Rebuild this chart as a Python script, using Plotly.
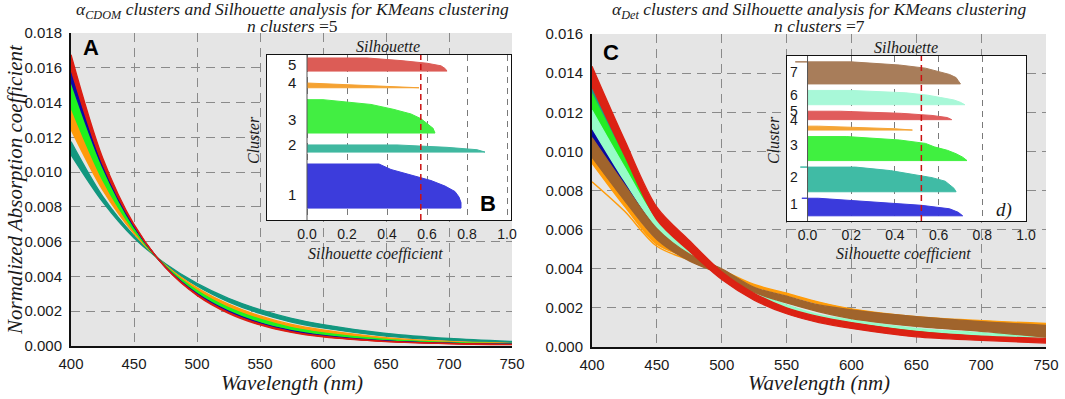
import plotly.graph_objects as go

W, H = 1065, 399

# ---------------- data ----------------
wavelength = [400, 425, 450, 475, 500, 525, 550, 575, 600, 650, 700, 750]

# Panel A: a_CDOM spectra, band edges per cluster (x 1e-3)
cdom_teal_lo   = [11.00, 8.30, 6.21, 4.73, 3.60, 2.74, 2.09, 1.59, 1.23, 0.72, 0.43, 0.26]
cdom_teal_hi   = [11.75, 8.62, 6.35, 4.68, 3.45, 2.54, 1.87, 1.38, 1.04, 0.57, 0.32, 0.19]
cdom_orange_lo = [12.45, 8.99, 6.47, 4.65, 3.35, 2.41, 1.73, 1.24, 0.92, 0.48, 0.26, 0.15]
cdom_orange_hi = [13.80, 9.61, 6.65, 4.60, 3.18, 2.20, 1.52, 1.05, 0.75, 0.37, 0.19, 0.11]
cdom_green_lo  = [13.70, 9.57, 6.64, 4.60, 3.19, 2.21, 1.54, 1.06, 0.76, 0.38, 0.20, 0.12]
cdom_green_hi  = [15.25, 10.22, 6.82, 4.55, 3.04, 2.03, 1.36, 0.91, 0.62, 0.31, 0.17, 0.10]
cdom_blue_lo   = [15.20, 10.30, 6.85, 4.55, 3.02, 2.01, 1.33, 0.89, 0.61, 0.30, 0.16, 0.10]
cdom_blue_hi   = [15.90, 10.55, 6.91, 4.53, 2.97, 1.95, 1.27, 0.84, 0.57, 0.28, 0.15, 0.09]
cdom_red_lo    = [15.90, 10.48, 6.93, 4.53, 2.96, 1.94, 1.27, 0.83, 0.56, 0.27, 0.15, 0.09]
cdom_red_hi    = [16.75, 10.84, 6.99, 4.51, 2.91, 1.88, 1.21, 0.78, 0.52, 0.25, 0.13, 0.08]

# Panel C: a_Det spectra, band edges per cluster (x 1e-3)
det_blue_lo    = [10.70, 8.20, 5.95, 4.60, 3.70, 2.70, 2.00, 1.50, 1.20, 0.82, 0.60, 0.42]
det_blue_hi    = [11.20, 8.60, 6.30, 4.70, 3.80, 2.80, 2.10, 1.60, 1.30, 0.90, 0.68, 0.50]
det_teal_lo    = [12.90, 9.60, 6.55, 4.95, 3.80, 2.75, 2.00, 1.50, 1.20, 0.82, 0.62, 0.48]
det_teal_hi    = [13.25, 9.90, 6.75, 5.10, 3.90, 2.85, 2.10, 1.60, 1.30, 0.90, 0.70, 0.55]
det_green_lo   = [12.10, 9.10, 6.35, 4.85, 3.75, 2.70, 2.00, 1.50, 1.20, 0.82, 0.62, 0.46]
det_green_hi   = [12.95, 9.70, 6.70, 5.05, 3.90, 2.80, 2.10, 1.60, 1.30, 0.90, 0.70, 0.55]
det_mint_lo    = [11.20, 8.50, 6.10, 4.70, 3.70, 2.70, 2.05, 1.55, 1.28, 0.85, 0.58, 0.38]
det_mint_hi    = [12.10, 9.20, 6.45, 4.90, 3.85, 2.80, 2.15, 1.65, 1.38, 0.95, 0.72, 0.50]
det_orange_lo  = [9.40, 7.20, 5.25, 4.55, 3.90, 3.10, 2.65, 2.20, 1.85, 1.45, 1.25, 1.10]
det_orange_hi  = [9.70, 7.45, 5.45, 4.70, 3.95, 3.20, 2.75, 2.30, 1.95, 1.55, 1.35, 1.20]
det_orange_low_line = [8.45, 6.95, 5.15, 4.45, 3.90, 3.15, 2.70, 2.25, 1.90, 1.50, 1.30, 1.15]
det_brown_lo   = [9.70, 7.50, 5.50, 4.40, 3.70, 2.80, 2.25, 1.80, 1.45, 1.05, 0.80, 0.50]
det_brown_hi   = [10.70, 8.30, 6.05, 4.75, 4.00, 3.05, 2.60, 2.15, 1.90, 1.55, 1.30, 1.10]
det_red_lo     = [13.30, 9.80, 6.50, 4.90, 3.45, 2.40, 1.70, 1.25, 0.95, 0.52, 0.34, 0.20]
det_red_hi     = [14.35, 10.60, 7.15, 5.45, 3.85, 2.75, 2.00, 1.55, 1.25, 0.80, 0.56, 0.44]

# Silhouette analysis (inset B): clusters 1..5
cdom_cluster_ids = [1, 2, 3, 4, 5]
cdom_cluster_sizes = [37, 6, 28, 4, 11]
cdom_sil_profiles = [
    [0.77, 0.77, 0.76, 0.74, 0.69, 0.62, 0.52, 0.42, 0.36],
    [0.89, 0.85, 0.70, 0.45],
    [0.64, 0.63, 0.60, 0.57, 0.52, 0.43, 0.32, 0.08],
    [0.56, 0.42, 0.28, 0.14, 0.0],
    [0.70, 0.69, 0.67, 0.60, 0.47, 0.30],
]
cdom_sil_min = [0.0, 0.0, 0.0, 0.0, 0.0]
cdom_sil_avg = 0.569
cdom_label_y = [21, 63, 84, 115.4, 130.8]

# Silhouette analysis (inset d): clusters 1..7
det_cluster_ids = [1, 2, 3, 4, 5, 6, 7]
det_cluster_sizes = [27, 38, 37, 6, 13, 22, 34]
det_sil_profiles = [
    [0.71, 0.69, 0.65, 0.52, 0.30, 0.05],
    [0.68, 0.67, 0.65, 0.63, 0.57, 0.48, 0.38, 0.22],
    [0.73, 0.71, 0.68, 0.64, 0.58, 0.54, 0.42, 0.18],
    [0.48, 0.40, 0.25, 0.05],
    [0.66, 0.64, 0.57, 0.43, 0.15],
    [0.72, 0.70, 0.67, 0.61, 0.55, 0.45, 0.20],
    [0.70, 0.69, 0.68, 0.65, 0.60, 0.54, 0.42, 0.20],
]
det_sil_min = [-0.026, -0.033, 0.0, 0.0, 0.0, 0.0, -0.056]
det_sil_avg = 0.521
det_label_y = [26, 68, 117, 155, 170, 194, 229.7]

x_ticks = [400, 450, 500, 550, 600, 650, 700, 750]
sil_ticks = [0.0, 0.2, 0.4, 0.6, 0.8, 1.0]

# ---------------- styles ----------------
SANS = "Liberation Sans, Arial, sans-serif"
SERIF = "Liberation Serif, Times New Roman, serif"
BG = "#e5e5e5"
GRID = "#8a8a8a"

cdom_colors = {"teal": "#12977f", "orange": "#ff9a0a", "green": "#1ef21e",
               "blue": "#0a0aa8", "red": "#dc1c12"}
det_colors = {"blue": "#0808a0", "teal": "#1f9a88", "green": "#24ec24",
              "mint": "#96fcc8", "orange": "#ff9c0a", "brown": "#a0642c",
              "red": "#dc2214"}
cdom_sil_colors = ["#3c3cdc", "#40b8a0", "#42ee42", "#f5a232", "#dc5c56"]
det_sil_colors = ["#3a3adc", "#40bba5", "#40f040", "#f5a535", "#e05c5c",
                  "#a8f8d8", "#a87d5a"]

fig = go.Figure()


def band(xa, ya, lo, hi, color, lw=1.3):
    common = dict(x=wavelength, mode="lines", xaxis=xa, yaxis=ya,
                  showlegend=False, hoverinfo="skip")
    fig.add_trace(go.Scatter(y=[v * 1e-3 for v in lo],
                             line=dict(color=color, width=lw, shape="spline", smoothing=0.9),
                             **common))
    fig.add_trace(go.Scatter(y=[v * 1e-3 for v in hi], fill="tonexty", fillcolor=color,
                             line=dict(color=color, width=lw, shape="spline", smoothing=0.9),
                             **common))


# Panel A bands
band("x", "y", cdom_teal_lo, cdom_teal_hi, cdom_colors["teal"])
band("x", "y", cdom_orange_lo, cdom_orange_hi, cdom_colors["orange"])
band("x", "y", cdom_green_lo, cdom_green_hi, cdom_colors["green"])
band("x", "y", cdom_blue_lo, cdom_blue_hi, cdom_colors["blue"])
band("x", "y", cdom_red_lo, cdom_red_hi, cdom_colors["red"])

# Panel C bands
band("x2", "y2", det_blue_lo, det_blue_hi, det_colors["blue"])
band("x2", "y2", det_teal_lo, det_teal_hi, det_colors["teal"])
band("x2", "y2", det_green_lo, det_green_hi, det_colors["green"])
band("x2", "y2", det_mint_lo, det_mint_hi, det_colors["mint"])
band("x2", "y2", det_orange_lo, det_orange_hi, det_colors["orange"])
fig.add_trace(go.Scatter(x=wavelength, y=[v * 1e-3 for v in det_orange_low_line], mode="lines",
                         line=dict(color=det_colors["orange"], width=1.5, shape="spline", smoothing=0.9),
                         xaxis="x2", yaxis="y2", showlegend=False, hoverinfo="skip"))
band("x2", "y2", det_brown_lo, det_brown_hi, det_colors["brown"])
band("x2", "y2", det_red_lo, det_red_hi, det_colors["red"])


def silhouette(xa, ya, sizes, profiles, mins, colors, avg, y_start, gap, ymax):
    y_low = y_start
    for size, prof, vmin, col in zip(sizes, profiles, mins, colors):
        n = len(prof)
        ys = [y_low + size * k / (n - 1) for k in range(n)]
        top = y_low + size
        xs = [0.0] + list(prof) + [min(vmin, 0.0), 0.0]
        yy = [y_low] + ys + [top, top]
        fig.add_trace(go.Scatter(x=xs, y=yy, mode="lines", fill="toself", fillcolor=col,
                                 line=dict(color=col, width=1), xaxis=xa, yaxis=ya,
                                 showlegend=False, hoverinfo="skip"))
        y_low = top + gap
    fig.add_trace(go.Scatter(x=[0, 0], y=[0, ymax], mode="lines",
                             line=dict(color="#555555", width=1), xaxis=xa, yaxis=ya,
                             showlegend=False, hoverinfo="skip"))
    fig.add_trace(go.Scatter(x=[avg, avg], y=[0, ymax], mode="lines",
                             line=dict(color="#cc1010", width=1.5, dash="6px,4px"), xaxis=xa, yaxis=ya,
                             showlegend=False, hoverinfo="skip"))


B_YMAX = 138.5
D_YMAX = 254
silhouette("x3", "y3", cdom_cluster_sizes, cdom_sil_profiles, cdom_sil_min, cdom_sil_colors,
           cdom_sil_avg, 10, 10, B_YMAX)
silhouette("x4", "y4", det_cluster_sizes, det_sil_profiles, det_sil_min, det_sil_colors,
           det_sil_avg, 8, 10, D_YMAX)

# ---------------- layout ----------------
def dx(p0, p1):
    return [p0 / W, p1 / W]


def dy(top, bottom):
    return [1 - bottom / H, 1 - top / H]


main_x = dict(range=[400, 750], tickvals=x_ticks, showgrid=True, gridcolor=GRID, gridwidth=1,
              griddash="9px,6px", zeroline=False, showline=True, linecolor="#111111",
              linewidth=2, ticks="outside", ticklen=3, tickcolor="rgba(0,0,0,0)",
              tickfont=dict(family=SANS, size=15, color="#1a1a1a"))
main_y = dict(dtick=0.002, tickformat=".3f", showgrid=True, gridcolor=GRID, gridwidth=1,
              griddash="9px,6px", zeroline=False, showline=True, linecolor="#111111",
              linewidth=2, ticks="outside", ticklen=4, tickcolor="rgba(0,0,0,0)",
              tickfont=dict(family=SANS, size=15, color="#1a1a1a"))
inset_x = dict(tickvals=sil_ticks, tickformat=".1f", showgrid=True, gridcolor="#7a7a7a",
               gridwidth=1, griddash="6px,5px", zeroline=False, showline=True, mirror=True,
               linecolor="#111111", linewidth=1.2, ticks="outside", ticklen=1,
               tickcolor="rgba(0,0,0,0)", tickfont=dict(family=SANS, size=14, color="#1a1a1a"))
inset_y = dict(showgrid=False, zeroline=False, showline=True, mirror=True, linecolor="#111111",
               linewidth=1.2, showticklabels=False, ticks="")

fig.update_layout(
    width=W, height=H, margin=dict(l=0, r=0, t=0, b=0, pad=0, autoexpand=False),
    paper_bgcolor="white", plot_bgcolor=BG, showlegend=False,
    xaxis=dict(domain=dx(71, 512), anchor="y", **main_x),
    yaxis=dict(domain=dy(33, 346), anchor="x", range=[0, 0.018], **main_y),
    xaxis2=dict(domain=dx(592, 1046), anchor="y2", **main_x),
    yaxis2=dict(domain=dy(34, 347), anchor="x2", range=[0, 0.016], **main_y),
    xaxis3=dict(domain=dx(267, 511), anchor="y3", range=[-0.2, 1.02], **inset_x),
    yaxis3=dict(domain=dy(55, 220), anchor="x3", range=[0, B_YMAX], **inset_y),
    xaxis4=dict(domain=dx(787, 1026), anchor="y4", range=[-0.094, 1.0], **inset_x),
    yaxis4=dict(domain=dy(56, 221), anchor="x4", range=[0, D_YMAX], **inset_y),
)

# white inset backgrounds
fig.add_shape(type="rect", xref="x3", yref="y3", x0=-0.2, x1=1.02, y0=0, y1=B_YMAX,
              fillcolor="white", line=dict(width=0), layer="below")
fig.add_shape(type="rect", xref="x4", yref="y4", x0=-0.094, x1=1.0, y0=0, y1=D_YMAX,
              fillcolor="white", line=dict(width=0), layer="below")


def ann(text, px, py, size, family=SERIF, angle=0, color="#1a1a1a"):
    fig.add_annotation(text=text, x=px / W, y=1 - py / H, xref="paper", yref="paper",
                       showarrow=False, font=dict(family=family, size=size, color=color),
                       textangle=angle, xanchor="center", yanchor="middle")


ann("<i>α</i><sub><i>CDOM</i></sub><i> clusters and Silhouette analysis for KMeans clustering</i>",
    292, 10, 17.5)
ann("<i>n clusters</i> =5", 292, 26, 17.5)
ann("<i>α</i><sub><i>Det</i></sub><i> clusters and Silhouette analysis for KMeans clustering</i>",
    819, 10, 17.5)
ann("<i>n clusters</i> =7", 819, 26, 17.5)

ann("<i>Normalized Absorption coefficient</i>", 15, 190, 21, angle=-90)
ann("<i>Wavelength (nm)</i>", 292, 383, 21)
ann("<i>Wavelength (nm)</i>", 819, 383, 21)

ann("<i>Silhouette</i>", 388, 46, 16)
ann("<i>Silhouette</i>", 906, 47, 16)
ann("<i>Silhouette coefficient</i>", 375, 254, 16)
ann("<i>Silhouette coefficient</i>", 903, 254, 16)
ann("<i>Cluster</i>", 253, 140, 16, angle=-90)
ann("<i>Cluster</i>", 773, 140, 16, angle=-90)

ann("<b>A</b>", 91, 47, 22, family=SANS, color="#000000")
ann("<b>C</b>", 611, 52, 22, family=SANS, color="#000000")
ann("<b>B</b>", 488, 203, 22, family=SANS, color="#000000")
ann("<i>d)</i>", 1004, 210, 19)

# cluster labels inside insets (data coordinates)
for cid, yv in zip(cdom_cluster_ids, cdom_label_y):
    fig.add_annotation(text=str(cid), x=-0.077, y=yv, xref="x3", yref="y3", showarrow=False,
                       font=dict(family=SANS, size=15, color="#1a1a1a"))
for cid, yv in zip(det_cluster_ids, det_label_y):
    fig.add_annotation(text=str(cid), x=-0.06, y=yv, xref="x4", yref="y4", showarrow=False,
                       font=dict(family=SANS, size=14, color="#1a1a1a"))

fig.write_html("out.html", config={"displayModeBar": False},
               post_script="document.body.style.margin='0px';")
